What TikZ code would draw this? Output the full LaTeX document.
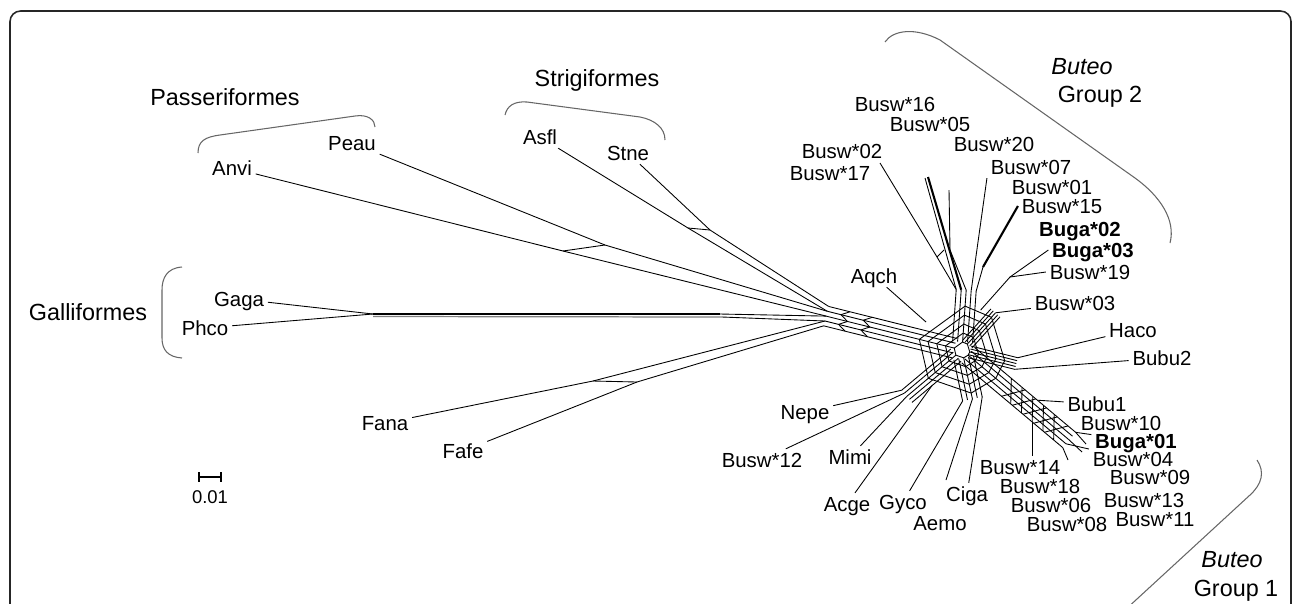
\documentclass[tikz,border=0pt]{standalone}
\usepackage{fontspec}
\setmainfont{Liberation Sans}
\usetikzlibrary{positioning}

\begin{document}
\begin{tikzpicture}[
    x=0.02cm, y=-0.02cm,
    taxon/.style={font=\fontsize{11.6}{13}\selectfont, text height=8.3pt, text depth=0pt, inner sep=2pt},
    focal/.style={taxon, font=\fontsize{11.6}{13}\selectfont\bfseries},
    order/.style={font=\fontsize{13.3}{15}\selectfont, text height=9.5pt, text depth=0pt, inner sep=0pt},
    genus/.style={order, font=\fontsize{13.3}{15}\selectfont\itshape},
    brace/.style={draw=black!60, line width=0.6pt},
    net/.style={line width=0.5pt},
    bundle/.style={line width=1.2pt},
]
\useasboundingbox (0,0) rectangle (1293,603);
\clip (0,0) rectangle (1293,603);

% Frame
\draw[line width=0.9pt, rounded corners=6pt, black!85] (10,650) -- (10,11) -- (1291,11) -- (1291,650);

% Orders and groups
\node[order] (passer) at (225,97) {Passeriformes};
\node[order] (strigi) at (597,78) {Strigiformes};
\node[order] (galli) at (88,312) {Galliformes};
\node[genus] (buteo2) at (1082,66) {Buteo};
\node[order] (group2) at (1100,94) {Group 2};
\node[genus] (buteo1) at (1232,559) {Buteo};
\node[order] (group1) at (1236,588) {Group 1};

\draw[brace] (198,153) .. controls (198,141) and (205,137) .. (220,135) -- (355,116) .. controls (368,114) and (375,120) .. (375,127);
\draw[brace] (505,115) .. controls (507,106) and (514,101) .. (527,102) -- (640,117) .. controls (655,120) and (665,128) .. (665,140);
\draw[brace] (182,267) .. controls (167,268) and (162,278) .. (162,290) -- (162,338) .. controls (162,350) and (168,357) .. (182,358);
\draw[brace] (885,42) .. controls (893,30) and (915,27) .. (940,40) -- (1135,178) .. controls (1160,196) and (1176,220) .. (1170,243);
\draw[brace] (1257,460) .. controls (1265,472) and (1262,484) .. (1250,495) -- (1125,610);

% Taxa
\node[taxon] (peau) at (352,143) {Peau};
\node[taxon] (anvi) at (232,168) {Anvi};
\node[taxon] (asfl) at (540,137) {Asfl};
\node[taxon] (stne) at (628,153) {Stne};
\node[taxon] (gaga) at (239,299) {Gaga};
\node[taxon] (phco) at (205,328) {Phco};
\node[taxon] (fana) at (385,423) {Fana};
\node[taxon] (fafe) at (463,451) {Fafe};
\node[taxon] (aqch) at (874,276) {Aqch};
\node[taxon] (nepe) at (805,412) {Nepe};
\node[taxon] (bsw12) at (762,460) {Busw*12};
\node[taxon] (mimi) at (850,457) {Mimi};
\node[taxon] (acge) at (847,504) {Acge};
\node[taxon] (gyco) at (903,502) {Gyco};
\node[taxon] (aemo) at (940,523) {Aemo};
\node[taxon] (ciga) at (967,494) {Ciga};
\node[taxon] (bsw14) at (1020,467) {Busw*14};
\node[taxon] (bsw18) at (1040,486) {Busw*18};
\node[taxon] (bsw06) at (1051,505) {Busw*06};
\node[taxon] (bsw08) at (1067,524) {Busw*08};
\node[taxon] (haco) at (1133,330) {Haco};
\node[taxon] (bubu2) at (1162,358) {Bubu2};
\node[taxon] (bubu1) at (1097,404) {Bubu1};
\node[taxon] (bsw10) at (1121,423) {Busw*10};
\node[focal] (bga01) at (1136,441) {Buga*01};
\node[taxon] (bsw04) at (1133,459) {Busw*04};
\node[taxon] (bsw09) at (1150,477) {Busw*09};
\node[taxon] (bsw13) at (1144,500) {Busw*13};
\node[taxon] (bsw11) at (1155,519) {Busw*11};
\node[taxon] (bsw03) at (1075,303) {Busw*03};
\node[taxon] (bsw19) at (1090,272) {Busw*19};
\node[focal] (bga03) at (1093,250) {Buga*03};
\node[focal] (bga02) at (1080,229) {Buga*02};
\node[taxon] (bsw15) at (1062,206) {Busw*15};
\node[taxon] (bsw01) at (1052,187) {Busw*01};
\node[taxon] (bsw07) at (1031,167) {Busw*07};
\node[taxon] (bsw20) at (994,144) {Busw*20};
\node[taxon] (bsw05) at (930,124) {Busw*05};
\node[taxon] (bsw16) at (895,104) {Busw*16};
\node[taxon] (bsw02) at (842,151) {Busw*02};
\node[taxon] (bsw17) at (830,173) {Busw*17};

% Inner points of the network
\coordinate (hub) at (962,350);
\coordinate (gal) at (373,314);
\coordinate (gal2) at (373,316.5);
\coordinate (galE) at (720,314);
\coordinate (galE2) at (722,317);
\coordinate (pas1) at (563,251);
\coordinate (pas2) at (605,245);
\coordinate (str1) at (688,228);
\coordinate (str2) at (710,230);
\coordinate (fal1) at (593,381);
\coordinate (fal2) at (637,382);
\coordinate (w1) at (828.6,306.4);
\coordinate (w2) at (827.4,311.3);
\coordinate (w3) at (826.2,316.1);
\coordinate (w4) at (825.0,321.0);
\coordinate (w5) at (823.7,325.8);
\coordinate (n1) at (956.2,289.5);
\coordinate (n2) at (961.2,289.8);
\coordinate (n3) at (966.2,290.2);
\coordinate (n4) at (971.2,290.5);
\coordinate (n5) at (976.2,290.9);
\coordinate (g2a) at (937,257);
\coordinate (g2b) at (983,267);
\coordinate (g2c) at (1010,277);
\coordinate (g2r) at (980.6,310.1);
\coordinate (t0217) at (880,163);
\coordinate (t1605) at (928,177);
\coordinate (t20) at (949,190);
\coordinate (ne) at (995.5,312.8);
\coordinate (aq) at (926,322);
\coordinate (e1) at (1017.8,357.7);
\coordinate (e2) at (1014.8,369.3);
\coordinate (se1) at (1075.6,432.3);
\coordinate (se2) at (1066.0,443.8);
\coordinate (se3) at (1062.8,447.7);
\coordinate (se4) at (1069.2,440.0);
\coordinate (sebu) at (1037.3,400.2);
\coordinate (se14) at (1032.2,422);
\coordinate (s1) at (982.2,396.8);
\coordinate (s2) at (972.4,398.9);
\coordinate (s3) at (962.6,401.0);
\coordinate (tae) at (946,480);
\coordinate (sw1) at (901.7,390.2);
\coordinate (sw2) at (904.2,393.2);
\coordinate (sw3) at (906.8,396.3);
\coordinate (sw4) at (931.9,385.7);

% Hub
\foreach \ang/\len/\half in {166/140/10, 86/60/10, 48/50/6, -14/56/6, -40/140/10, -78/50/10, -140/72/8} {
    \begin{scope}[shift={(hub)}, rotate=\ang]
        \foreach \o in {-1, -0.5, 0, 0.5, 1}
            \draw[net] (8,\o*\half) -- (\len,\o*\half);
    \end{scope}
}
\begin{scope}[shift={(hub)}, yscale=-1]
    \foreach \rr in {8, 17, 26, 35, 44}
        \draw[net] (166:\rr) -- (86:\rr) -- (48:\rr) -- (-14:\rr) -- (-40:\rr) -- (-78:\rr) -- (-140:\rr) -- cycle;
\end{scope}
\begin{scope}[shift={(hub)}, rotate=-40]
    \foreach \s in {56, 70, 84, 98, 112}
        \draw[net] (\s,-10) -- (\s+16,10) (\s+4,10) -- (\s+18,-10);
\end{scope}
\begin{scope}[shift={(hub)}, rotate=166]
    \foreach \s in {95, 118}
        \draw[net] (\s,-10) -- (\s+8,-5) -- (\s,0) -- (\s+8,5) -- (\s,10);
\end{scope}

% Outgroups
\draw[net] (gaga) -- (gal);
\draw[net] (phco) -- (gal);
\draw[line width=1.3pt] (gal) -- (galE);
\draw[black!50, line width=0.7pt] (gal2) -- (galE2);
\draw[net] (galE) -- (w3);
\draw[net] (galE2) -- (w4);
\draw[net] (anvi) -- (pas1) -- (w3);
\draw[net] (peau) -- (pas2) -- (w2);
\draw[net] (pas1) -- (pas2);
\draw[net] (asfl) -- (str1) -- (w2);
\draw[net] (stne) -- (str2) -- (w1);
\draw[net] (str1) -- (str2);
\draw[net] (fana) -- (fal1) -- (w4);
\draw[net] (fafe) -- (fal2) -- (w5);
\draw[net] (fal1) -- (fal2);

% Buteo group 2
\draw[net] (n1) -- (g2a) -- (t0217);
\draw[net] (g2a) -- (944,250);
\draw[bundle] (n2) -- (t1605);
\draw[net] (n1) -- (925,178);
\draw[net] (n3) -- (950,250) -- (t20);
\draw[net] (n4) -- (bsw07.south west);
\draw[net] (n5) -- (g2b);
\draw[bundle] (g2b) -- (bsw15.west);
\draw[net] (g2r) -- (g2c) -- (bga03.west);
\draw[net] (g2c) -- (bsw19.west);
\draw[net] (ne) -- (bsw03);
\draw[net] (aq) -- (aqch);

% Other accipitrids
\draw[net] (e1) -- (haco);
\draw[net] (e2) -- (bubu2);
\draw[net] (sebu) -- (bubu1);
\draw[net] (se14) -- (se14 |- bsw14.north);
\draw[net] (se1) -- (bga01);
\draw[net] (se2) -- (bsw04);
\draw[net] (se3) -- (1068,460) (se4) -- (1082,452) (se1) -- (1086,444);
\draw[net] (s1) -- (ciga);
\draw[net] (s2) -- (tae);
\draw[net] (s3) -- (gyco);
\draw[net] (sw4) -- (acge);
\draw[net] (sw1) -- (nepe);
\draw[net] (sw2) -- (bsw12);
\draw[net] (sw3) -- (mimi);

% Scale
\coordinate (sbar) at (210,477);
\draw[line width=1.3pt] (199,477) -- (221,477) (199,472) -- (199,482) (221,472) -- (221,482);
\node[font=\fontsize{10.5}{12}\selectfont, text height=7.5pt, text depth=0pt, inner sep=0pt, below=7.5pt of sbar] (scale) {0.01};

\end{tikzpicture}
\end{document}
